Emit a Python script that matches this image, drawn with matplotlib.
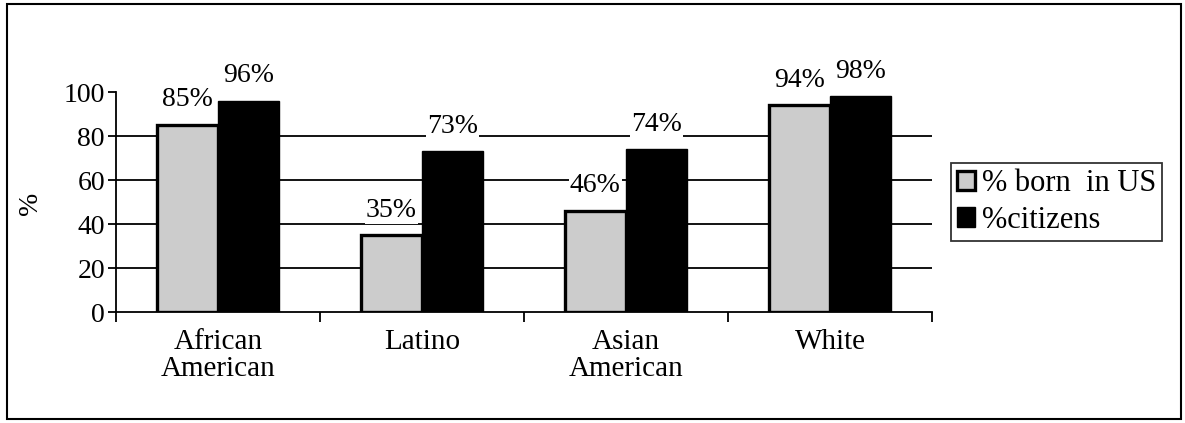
import numpy as np
import matplotlib
matplotlib.use("Agg")
import matplotlib.pyplot as plt
from matplotlib.patches import Rectangle

categories = ["African\nAmerican", "Latino", "Asian\nAmerican", "White"]
born_in_us = [85, 35, 46, 94]
citizens = [96, 73, 74, 98]
series_names = ["% born  in US", "%citizens"]
yticks = [0, 20, 40, 60, 80, 100]

plt.rcParams['font.family'] = ['Liberation Serif', 'DejaVu Serif']

fig = plt.figure(figsize=(11.85, 4.23), dpi=100)
ax = fig.add_axes([116 / 1185, 1 - 312 / 423, (932 - 116) / 1185, (312 - 92) / 423])

x = np.arange(len(categories))
w = 0.3
b1 = ax.bar(x - w / 2, born_in_us, w, color='#cccccc', edgecolor='black', linewidth=2.4, zorder=3)
b2 = ax.bar(x + w / 2, citizens, w, color='black', edgecolor='black', linewidth=1, zorder=3)

# data labels
for bars, vals in [(b1, born_in_us), (b2, citizens)]:
    for r, v in zip(bars, vals):
        ax.annotate(f"{v}%", (r.get_x() + r.get_width() / 2, v), xytext=(0, 9),
                    textcoords='offset points', ha='center', va='bottom', fontsize=20,
                    bbox=dict(facecolor='white', edgecolor='none', pad=1), zorder=4)

ax.set_xlim(-0.5, len(categories) - 0.5)
ax.set_ylim(0, 100)
ax.set_yticks(yticks)
ax.tick_params(axis='y', labelsize=20, length=6, width=1.3, direction='out', pad=2)
ax.set_xticks(x)
ax.set_xticklabels(categories, fontsize=21, linespacing=1.05)
ax.set_xticks(np.arange(len(categories) + 1) - 0.5, minor=True)
ax.tick_params(axis='x', which='major', length=0, pad=12)
ax.tick_params(axis='x', which='minor', length=7, width=1.3, direction='out')

for yv in yticks[1:-1]:
    ax.axhline(yv, color='black', linewidth=1.3, zorder=1)

for s in ['top', 'right']:
    ax.spines[s].set_visible(False)
for s in ['left', 'bottom']:
    ax.spines[s].set_linewidth(1.3)

fig.text(30 / 1185, 1 - 203 / 423, "%", rotation=90, fontsize=20, ha='center', va='center')

leg = fig.legend([b1, b2], series_names, loc='upper left',
                 bbox_to_anchor=(951 / 1185, 1 - 163 / 423), fontsize=22,
                 frameon=True, fancybox=False, edgecolor='black', handlelength=0.6,
                 handleheight=0.6, handletextpad=0.2, borderpad=0.2, labelspacing=0.25,
                 borderaxespad=0)
leg.get_frame().set_linewidth(1.3)

fig.patches.append(Rectangle((7 / 1185, 4 / 423), (1181 - 7) / 1185, (419 - 4) / 423,
                             transform=fig.transFigure, fill=False, edgecolor='black',
                             linewidth=1.5))

fig.savefig("out.png", dpi=100)
